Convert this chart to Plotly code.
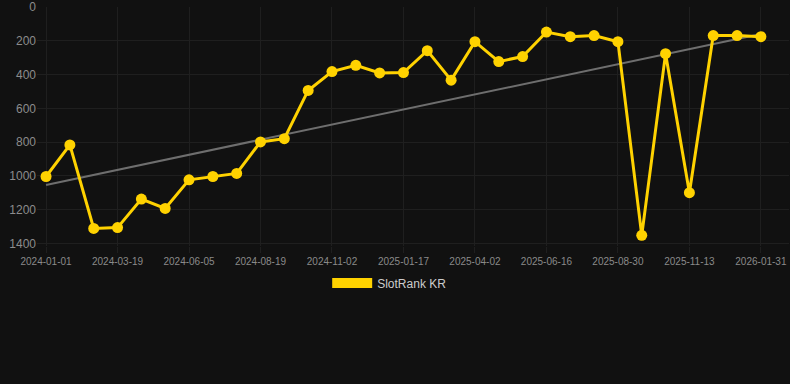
import numpy as np
import plotly.graph_objects as go

dates = [
    "2024-01-01", "2024-01-27", "2024-02-22", "2024-03-19", "2024-04-14", "2024-05-10",
    "2024-06-05", "2024-06-30", "2024-07-25", "2024-08-19", "2024-09-13", "2024-10-08",
    "2024-11-02", "2024-11-27", "2024-12-23", "2025-01-17", "2025-02-11", "2025-03-08",
    "2025-04-02", "2025-04-27", "2025-05-22", "2025-06-16", "2025-07-11", "2025-08-05",
    "2025-08-30", "2025-09-24", "2025-10-19", "2025-11-13", "2025-12-09", "2026-01-05",
    "2026-01-31",
]
rank = [
    1004, 817, 1312, 1307, 1138, 1193, 1024, 1004, 986, 799, 780, 494,
    382, 345, 390, 388, 258, 433, 205, 323, 293, 148, 175, 169,
    205, 1353, 276, 1100, 169, 169, 175,
]
tick_labels = ["2024-01-01", "2024-03-19", "2024-06-05", "2024-08-19", "2024-11-02",
               "2025-01-17", "2025-04-02", "2025-06-16", "2025-08-30", "2025-11-13",
               "2026-01-31"]
y_ticks = [0, 200, 400, 600, 800, 1000, 1200, 1400]

idx = np.arange(len(rank))
slope, intercept = np.polyfit(idx, rank, 1)
trend = slope * idx + intercept

GOLD = "#FFD200"
fig = go.Figure()
fig.add_trace(go.Scatter(x=dates, y=trend, mode="lines",
                         line=dict(color="#6e6e6e", width=2),
                         showlegend=False, hoverinfo="skip"))
fig.add_trace(go.Scatter(x=dates, y=rank, mode="lines+markers",
                         line=dict(color=GOLD, width=3),
                         marker=dict(color=GOLD, size=11),
                         showlegend=False, name="SlotRank KR"))
fig.add_trace(go.Scatter(x=[None], y=[None], mode="lines",
                         line=dict(color=GOLD, width=11),
                         name="SlotRank KR", showlegend=True))

fig.update_layout(
    width=790, height=384,
    paper_bgcolor="#111111", plot_bgcolor="#111111",
    margin=dict(l=37, r=1, t=7, b=138, autoexpand=False),
    font=dict(family="Liberation Sans, Arial, sans-serif", color="#8c8c8c"),
    xaxis=dict(type="category", range=[-0.38, 31.18],
               tickmode="array", tickvals=tick_labels, ticktext=tick_labels,
               tickfont=dict(size=10, color="#8a8a8a"), tickangle=0,
               showgrid=True, gridcolor="#1f1f1f", gridwidth=1,
               zeroline=False, showline=False, automargin=False,
               ticks="outside", ticklen=6, tickcolor="#1f1f1f"),
    yaxis=dict(range=[1416, -0.6], tickvals=y_ticks, automargin=False,
               tickfont=dict(size=12, color="#8c8c8c"),
               showgrid=True, gridcolor="#1f1f1f", gridwidth=1,
               zeroline=False, showline=False, ticklen=0),
    showlegend=True,
    legend=dict(orientation="h", x=0.469, xanchor="center",
                y=-0.155, yanchor="middle", itemwidth=40,
                font=dict(size=12, color="#cccccc"), bgcolor="rgba(0,0,0,0)"),
)

fig.write_html("out.html", config={"displayModeBar": False},
               post_script="document.body.style.margin='0';document.body.style.background='#111111';")
